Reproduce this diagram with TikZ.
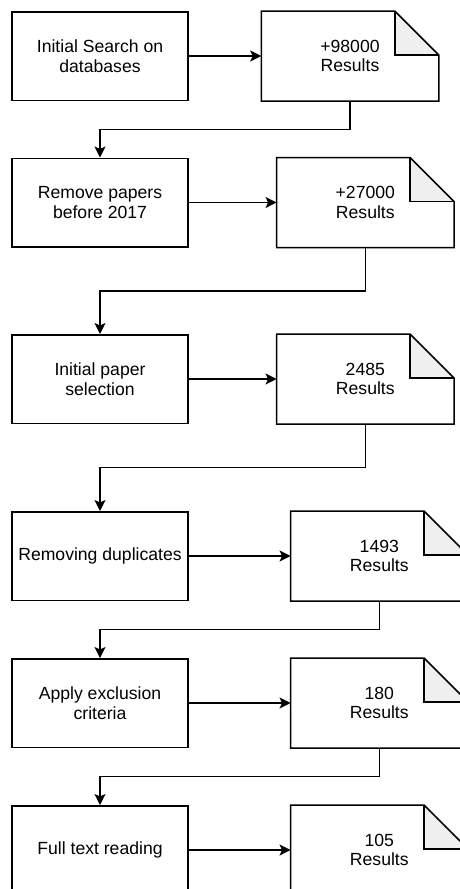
\documentclass[tikz,border=0pt]{standalone}
\usepackage{fontspec}
\setmainfont{Liberation Sans}
\usetikzlibrary{calc,arrows.meta}
\definecolor{foldgray}{HTML}{EFEFEF}
\begin{document}
\begin{tikzpicture}[x=1pt,y=-1pt,
  line width=1.5pt,
  stepbox/.style={draw, rectangle, minimum width=176pt, minimum height=88.5pt,
    inner sep=0pt, align=center,
    font=\fontsize{17.6pt}{19.5pt}\selectfont},
  docbox/.style={rectangle, minimum width=176pt, minimum height=88.5pt,
    inner sep=0pt, align=center,
    font=\fontsize{17.6pt}{19.5pt}\selectfont},
  tip/.style={-{Stealth[length=11pt,width=11pt,inset=2.5pt]}},
  flow/.style={tip},
  link/.style={tip}]
\useasboundingbox (0,0) rectangle (460,889);
\clip (0,0) rectangle (460,889);

% process steps (left column)
\node[stepbox] (b1) at (100,56)    {Initial Search on\\databases};
\node[stepbox] (b2) at (100,202.5) {Remove papers\\before 2017};
\node[stepbox] (b3) at (100,379)   {Initial paper\\selection};
\node[stepbox] (b4) at (100,556)   {Removing duplicates};
\node[stepbox] (b5) at (100,703)   {Apply exclusion\\criteria};
\node[stepbox] (b6) at (100,850)   {Full text reading};

% result counts (right column, folded-corner notes)
\node[docbox] (d1) at (350,56)    {+98000\\Results};
\node[docbox] (d2) at (365.3,202.5) {+27000\\Results};
\node[docbox] (d3) at (365.3,379) {2485\\Results};
\node[docbox] (d4) at (379.3,556) {1493\\Results};
\node[docbox] (d5) at (379.3,703) {180\\Results};
\node[docbox] (d6) at (379.3,850) {105\\Results};

% note outlines with the folded corner
\foreach \d in {d1,d2,d3,d4,d5,d6}{
  \fill[foldgray] ($(\d.north east)+(-44,0)$) -- ($(\d.north east)+(-44,44)$)
     -- ($(\d.north east)+(0,44)$) -- cycle;
  \draw[line join=miter] (\d.north west) -- ($(\d.north east)+(-44,0)$)
     -- ($(\d.north east)+(0,44)$) -- (\d.south east) -- (\d.south west) -- cycle;
  \draw ($(\d.north east)+(-44,0)$) -- ($(\d.north east)+(-44,44)$)
     -- ($(\d.north east)+(0,44)$);
}

% step -> result
\foreach \i in {1,...,6}{
  \draw[flow] (b\i.east) -- (d\i.west);
}

% result -> next step
\foreach \i/\j in {1/2,2/3,3/4,4/5,5/6}{
  \draw[link] (d\i.south) |- ($(d\i.south)!.5!(b\j.north)$) -| (b\j.north);
}
\end{tikzpicture}
\end{document}
